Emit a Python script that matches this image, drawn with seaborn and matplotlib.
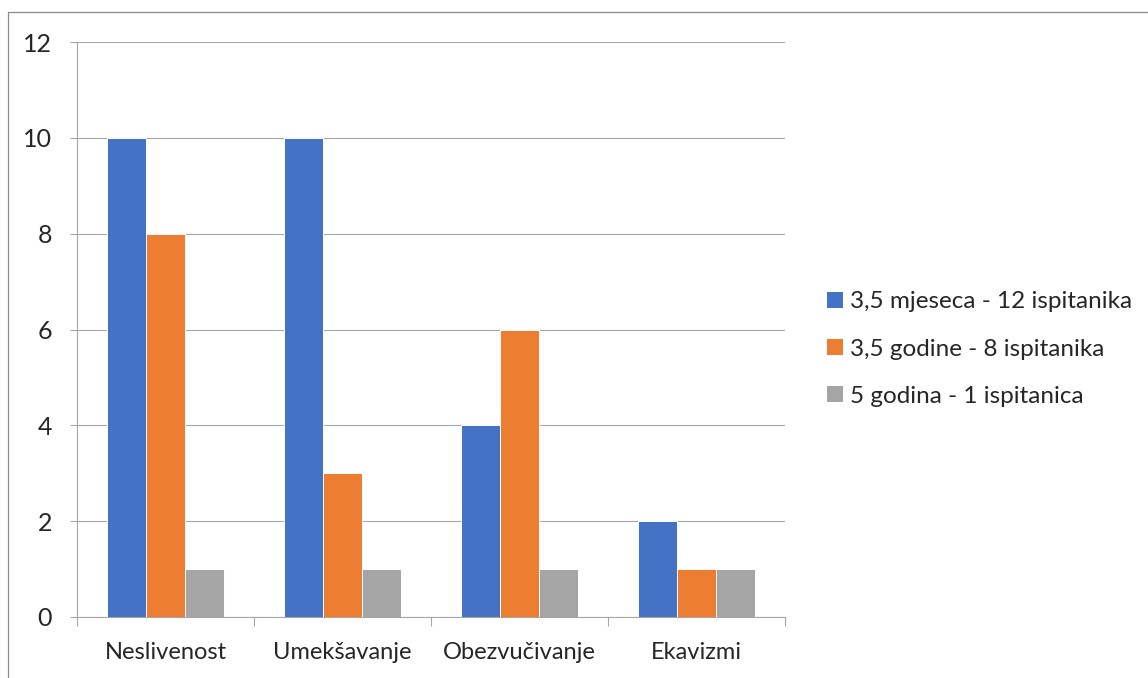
import matplotlib
matplotlib.use("Agg")
import matplotlib.pyplot as plt
import matplotlib.patches as mpatches
import seaborn as sns
import pandas as pd

categories = ["Neslivenost", "Umekšavanje", "Obezvučivanje", "Ekavizmi"]
series_names = ["3,5 mjeseca - 12 ispitanika", "3,5 godine - 8 ispitanika", "5 godina - 1 ispitanica"]
values_3_5_mjeseca = [10, 10, 4, 2]
values_3_5_godine = [8, 3, 6, 1]
values_5_godina = [1, 1, 1, 1]
y_ticks = [0, 2, 4, 6, 8, 10, 12]

colors = ["#4472C4", "#ED7D31", "#A5A5A5"]
grid_gray = "#A6A6A6"
lw = 0.8

rows = []
for name, vals in zip(series_names, [values_3_5_mjeseca, values_3_5_godine, values_5_godina]):
    for cat, v in zip(categories, vals):
        rows.append({"kategorija": cat, "serija": name, "vrijednost": v})
df = pd.DataFrame(rows)

sns.set_theme(style="white")
plt.rcParams["font.family"] = ["Lato", "DejaVu Sans"]

W, H = 1148, 678
fig = plt.figure(figsize=(W / 100, H / 100), dpi=100)
ax = fig.add_axes([77 / W, (H - 617) / H, (785 - 77) / W, (617 - 42) / H])

sns.barplot(data=df, x="kategorija", y="vrijednost", hue="serija",
            order=categories, hue_order=series_names, palette=colors,
            saturation=1, width=0.66, edgecolor="white", linewidth=0.7,
            ax=ax, legend=False, errorbar=None, zorder=3)

ax.set_ylim(0, 12)
ax.set_xlim(-0.5, len(categories) - 0.5)
ax.set_yticks(y_ticks)
ax.set_yticklabels([str(t) for t in y_ticks])
ax.yaxis.grid(True, color=grid_gray, linewidth=lw, zorder=0)
ax.set_axisbelow(True)
ax.set_xlabel("")
ax.set_ylabel("")

for side in ["top", "right"]:
    ax.spines[side].set_visible(False)
for side in ["left", "bottom"]:
    ax.spines[side].set_color(grid_gray)
    ax.spines[side].set_linewidth(lw)

ax.tick_params(axis="y", which="major", length=5, width=lw, color=grid_gray,
               labelsize=18, pad=13, left=True)
ax.tick_params(axis="x", which="major", length=0, labelsize=17, pad=18)
ax.set_xticks([i - 0.5 for i in range(len(categories) + 1)], minor=True)
ax.tick_params(axis="x", which="minor", length=6.5, width=lw, color=grid_gray, bottom=True)

handles = [mpatches.Patch(facecolor=c, edgecolor="none", label=n) for c, n in zip(colors, series_names)]
fig.legend(handles=handles, loc="center left", bbox_to_anchor=(827 / W, 1 - 349 / H),
           frameon=False, fontsize=17.5, handlelength=0.66, handleheight=0.66,
           handletextpad=0.3, labelspacing=1.08, borderpad=0, borderaxespad=0)

# outer chart frame
fig.add_artist(mpatches.Rectangle((8 / W, -0.05), 1.1, 1 - 12 / H + 0.05,
                                  transform=fig.transFigure, fill=False,
                                  edgecolor="#8C8C8C", linewidth=0.9))

fig.savefig("out.png", dpi=100, facecolor="white")
